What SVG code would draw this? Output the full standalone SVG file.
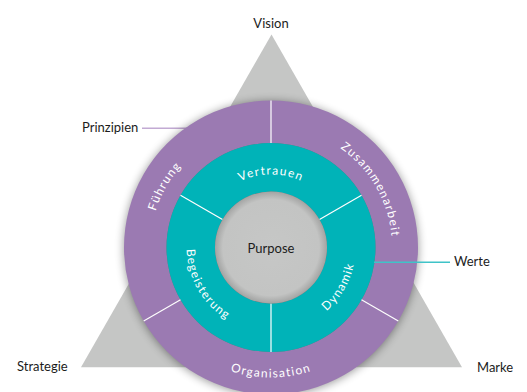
<svg xmlns="http://www.w3.org/2000/svg" width="527" height="392" viewBox="0 0 527 392">
  <defs>
    <filter id="softShadow" x="-20%" y="-20%" width="140%" height="140%">
      <feGaussianBlur stdDeviation="5"/>
    </filter>
    <radialGradient id="coreFill" cx="50%" cy="50%" r="50%">
      <stop offset="0" stop-color="#c6c7c6"/>
      <stop offset="0.86" stop-color="#c3c4c3"/>
      <stop offset="1" stop-color="#a3a4a3"/>
    </radialGradient>
    <!-- text baselines, centre (271,247.5) -->
    <path id="pVertrauen" d="M 198,247.5 A 73 73 0 0 1 344,247.5"/>
    <path id="pZusammen" d="M 210.5,142.71 A 121 121 0 0 1 331.5,352.29"/>
    <path id="pFuehrung" d="M 210.5,352.29 A 121 121 0 0 1 331.5,142.71"/>
    <path id="pOrganisation" d="M 141,247.5 A 130 130 0 0 0 401,247.5"/>
    <path id="pBegeisterung" d="M 228.5,173.89 A 85 85 0 0 0 313.5,321.11"/>
    <path id="pDynamik" d="M 228.5,321.11 A 85 85 0 0 0 313.5,173.89"/>
  </defs>
  <style>
    .lbl { font-family: Lato, "Open Sans", sans-serif; font-size: 13px; fill: #1c1c1c; }
    .ring { font-family: Lato, "Open Sans", sans-serif; font-size: 12px; fill: #ffffff; letter-spacing: 1.3px; }
    .outer { fill: #9b7ab2; }
    .inner { fill: #00b3b8; }
    .divider { stroke: #ffffff; stroke-width: 1.2; }
  </style>

  <rect width="527" height="392" fill="#ffffff"/>

  <!-- background triangle -->
  <g id="triangle">
    <polygon points="271.5,34.5 81,367.3 462,367.3" fill="#c5c6c5"/>
  </g>

  <!-- corner labels -->
  <g id="vision"><text class="lbl" x="271" y="27.5" text-anchor="middle">Vision</text></g>
  <g id="strategie"><text class="lbl" x="17" y="371" >Strategie</text></g>
  <g id="marke"><text class="lbl" x="477" y="371.5">Marke</text></g>
  <g id="prinzipien"><text class="lbl" x="82" y="132">Prinzipien</text></g>
  <g id="werte"><text class="lbl" x="454" y="266">Werte</text></g>

  <!-- leader line under the disc -->
  <g id="connectors-back">
    <line x1="142" y1="128.3" x2="190" y2="128.3" stroke="#c2aad3" stroke-width="1.5"/>
  </g>

  <!-- disc shadow -->
  <circle cx="271" cy="248.5" r="147" fill="#000" opacity="0.42" filter="url(#softShadow)"/>

  <!-- outer ring -->
  <g id="zusammenarbeit">
    <path class="outer" d="M 271,100.5 A 147 147 0 0 1 398.31,321 L 361.5,299.75 A 104.5 104.5 0 0 0 271,143 Z"/>
    <text class="ring"><textPath href="#pZusammen" startOffset="50%" text-anchor="middle">Zusammenarbeit</textPath></text>
  </g>
  <g id="organisation">
    <path class="outer" d="M 398.31,321 A 147 147 0 0 1 143.69,321 L 180.5,299.75 A 104.5 104.5 0 0 0 361.5,299.75 Z"/>
    <text class="ring"><textPath href="#pOrganisation" startOffset="50%" text-anchor="middle">Organisation</textPath></text>
  </g>
  <g id="fuehrung">
    <path class="outer" d="M 143.69,321 A 147 147 0 0 1 271,100.5 L 271,143 A 104.5 104.5 0 0 0 180.5,299.75 Z"/>
    <text class="ring"><textPath href="#pFuehrung" startOffset="50%" text-anchor="middle">Führung</textPath></text>
  </g>

  <!-- inner ring -->
  <g id="vertrauen">
    <path class="inner" d="M 180.5,195.25 A 104.5 104.5 0 0 1 361.5,195.25 L 319.5,219.5 A 56 56 0 0 0 222.5,219.5 Z"/>
    <text class="ring"><textPath href="#pVertrauen" startOffset="50%" text-anchor="middle">Vertrauen</textPath></text>
  </g>
  <g id="dynamik">
    <path class="inner" d="M 361.5,195.25 A 104.5 104.5 0 0 1 271,352 L 271,303.5 A 56 56 0 0 0 319.5,219.5 Z"/>
    <text class="ring"><textPath href="#pDynamik" startOffset="50%" text-anchor="middle">Dynamik</textPath></text>
  </g>
  <g id="begeisterung">
    <path class="inner" d="M 271,352 A 104.5 104.5 0 0 1 180.5,195.25 L 222.5,219.5 A 56 56 0 0 0 271,303.5 Z"/>
    <text class="ring"><textPath href="#pBegeisterung" startOffset="50%" text-anchor="middle">Begeisterung</textPath></text>
  </g>

  <!-- segment dividers -->
  <g id="dividers">
    <line class="divider" x1="271" y1="100.5" x2="271" y2="143"/>
    <line class="divider" x1="361.5" y1="299.75" x2="398.31" y2="321"/>
    <line class="divider" x1="180.5" y1="299.75" x2="143.69" y2="321"/>
    <line class="divider" x1="271" y1="303.5" x2="271" y2="352"/>
    <line class="divider" x1="222.5" y1="219.5" x2="180.5" y2="195.25"/>
    <line class="divider" x1="319.5" y1="219.5" x2="361.5" y2="195.25"/>
  </g>

  <!-- core -->
  <g id="purpose">
    <circle cx="271" cy="247.5" r="56" fill="url(#coreFill)"/>
    <text class="lbl" x="271" y="252.5" text-anchor="middle">Purpose</text>
  </g>

  <!-- leader line over the disc -->
  <g id="connectors">
    <line x1="374" y1="262.3" x2="450" y2="262.3" stroke="#3fc3c8" stroke-width="1.4"/>
  </g>
</svg>
